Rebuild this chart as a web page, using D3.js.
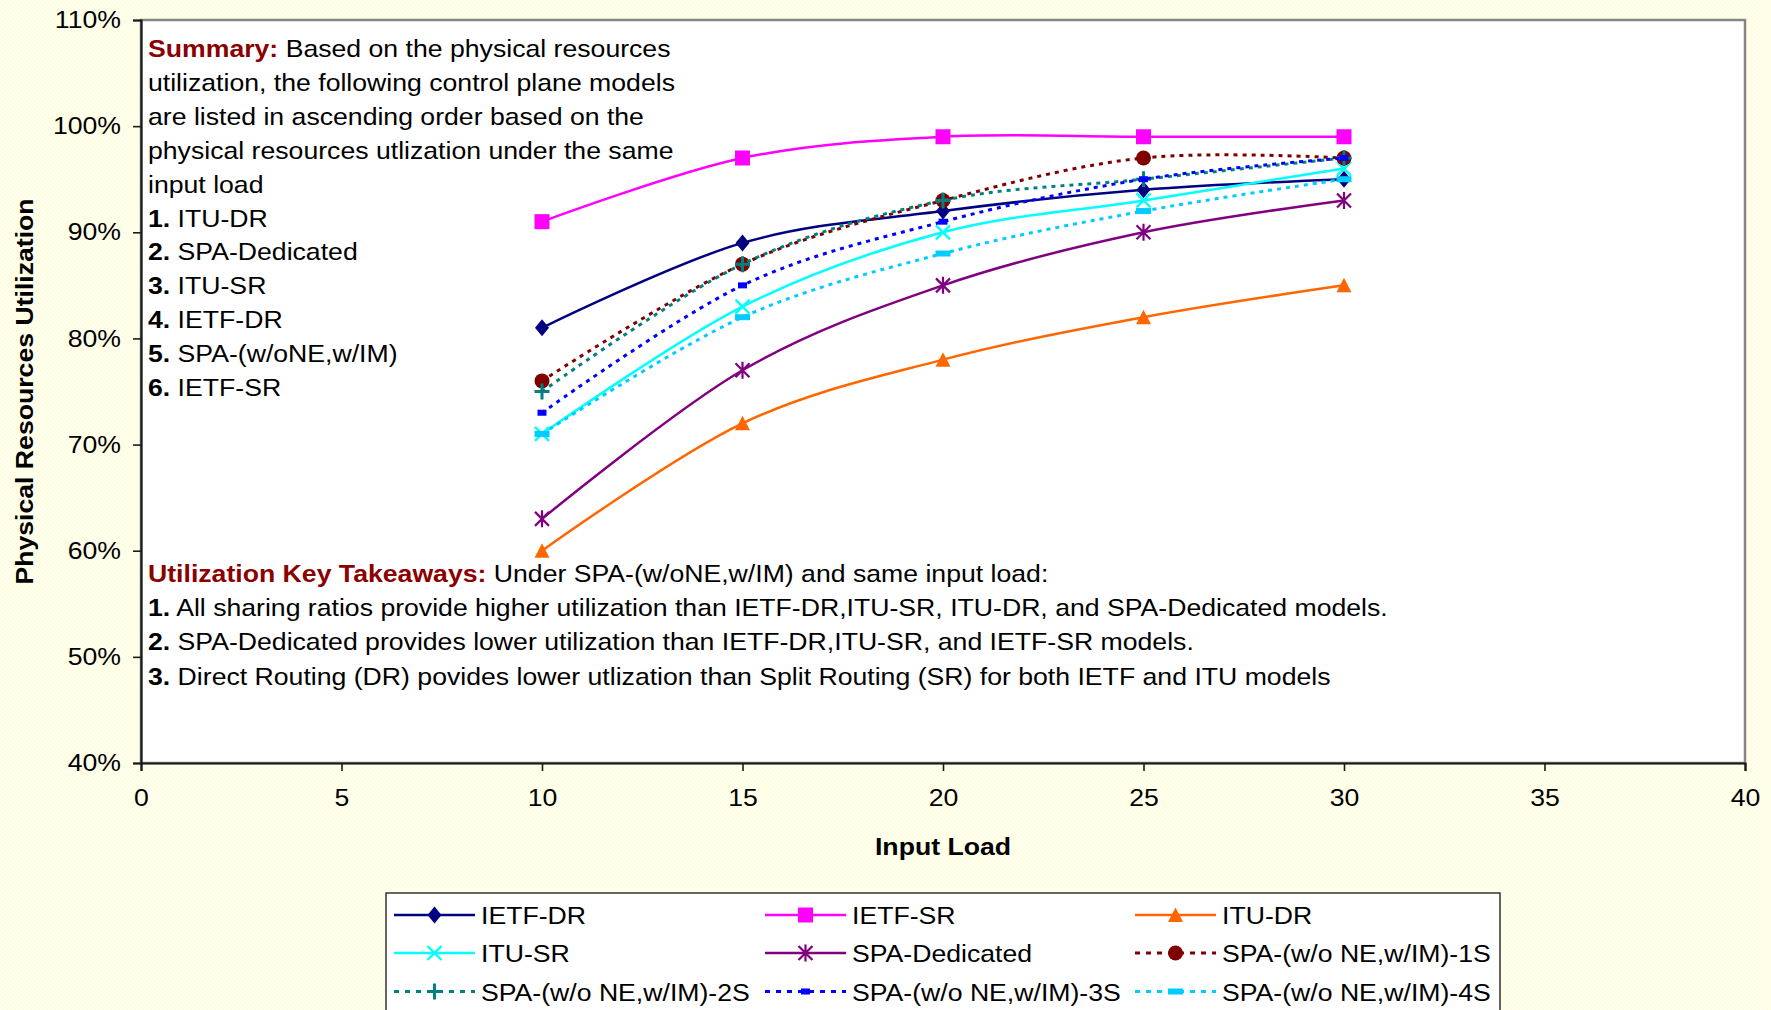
<!DOCTYPE html>
<html>
<head>
<meta charset="utf-8">
<script src="https://cdn.jsdelivr.net/npm/d3@7"></script>
<style>
  html, body { margin: 0; padding: 0; background: #ffffe4; }
  svg { display: block; }
</style>
</head>
<body>
<svg id="chart" width="1771" height="1010"></svg>
<script>
// ---- data ----
const inputLoad = [10, 15, 20, 25, 30];

const ietfDR       = [81, 89, 92, 94, 95];
const ietfSR       = [91, 97, 99, 99, 99];
const ituDR        = [60, 72, 78, 82, 85];
const ituSR        = [71, 83, 90, 93, 96];
const spaDedicated = [63, 77, 85, 90, 93];
const spa1S        = [76, 87, 93, 97, 97];
const spa2S        = [75, 87, 93, 95, 97];
const spa3S        = [73, 85, 91, 95, 97];
const spa4S        = [71, 82, 88, 92, 95];

const seriesNames = ["IETF-DR", "IETF-SR", "ITU-DR", "ITU-SR", "SPA-Dedicated",
  "SPA-(w/o NE,w/IM)-1S", "SPA-(w/o NE,w/IM)-2S", "SPA-(w/o NE,w/IM)-3S", "SPA-(w/o NE,w/IM)-4S"];
const seriesValues = [ietfDR, ietfSR, ituDR, ituSR, spaDedicated, spa1S, spa2S, spa3S, spa4S];
const seriesColors = ["#000080", "#ff00ff", "#ff6600", "#00ffff", "#800080",
  "#800000", "#008080", "#0000ff", "#00ccff"];
const seriesMarkers = ["diamond", "square", "triangle", "cross", "star",
  "circle", "plus", "shortbar", "longbar"];
const seriesDotted = [false, false, false, false, false, true, true, true, true];

const xTicks = [0, 5, 10, 15, 20, 25, 30, 35, 40];
const yTicks = [40, 50, 60, 70, 80, 90, 100, 110];

const xTitle = "Input Load";
const yTitle = "Physical Resources Utilization";

const summaryHead = "Summary:";
const summaryBody = [
  " Based on the physical resources",
  "utilization, the following control plane models",
  "are listed in ascending order based on the",
  "physical resources utlization under the same",
  "input load"
];
const ranking = ["ITU-DR", "SPA-Dedicated", "ITU-SR", "IETF-DR", "SPA-(w/oNE,w/IM)", "IETF-SR"];

const takeawayHead = "Utilization Key Takeaways:";
const takeawayIntro = " Under SPA-(w/oNE,w/IM) and same input load:";
const takeaways = [
  "All sharing ratios provide higher utilization than IETF-DR,ITU-SR, ITU-DR, and SPA-Dedicated models.",
  "SPA-Dedicated provides lower utilization than IETF-DR,ITU-SR, and IETF-SR models.",
  "Direct Routing (DR) povides lower utlization than Split Routing (SR) for both IETF and ITU models"
];

// ---- layout ----
const W = 1771, H = 1010;
const plot = { left: 141, right: 1745, top: 20, bottom: 763 };
const FONT = "'Liberation Sans', Arial, sans-serif";
const SX = 1.11;   // text is drawn slightly wide
const FS = 24;

const svg = d3.select("#chart");

// textured pale-yellow page background
const defs = svg.append("defs");
const pat = defs.append("pattern").attr("id", "bgtex")
  .attr("width", 4).attr("height", 4).attr("patternUnits", "userSpaceOnUse");
pat.append("rect").attr("width", 4).attr("height", 4).attr("fill", "#ffffe0");
pat.append("rect").attr("width", 2).attr("height", 2).attr("fill", "#fffff2");
pat.append("rect").attr("x", 2).attr("y", 2).attr("width", 2).attr("height", 2).attr("fill", "#fffff2");
svg.append("rect").attr("width", W).attr("height", H).attr("fill", "url(#bgtex)");

const x = d3.scaleLinear().domain([0, 40]).range([plot.left, plot.right]);
const y = d3.scaleLinear().domain([40, 110]).range([plot.bottom, plot.top]);

// plot area
svg.append("rect")
  .attr("x", plot.left).attr("y", plot.top)
  .attr("width", plot.right - plot.left).attr("height", plot.bottom - plot.top)
  .attr("fill", "#ffffff").attr("stroke", "#868686").attr("stroke-width", 2.5);

// place a text element with horizontal stretch
function putText(parent, px, py, anchor) {
  return parent.append("text")
    .attr("transform", `translate(${px},${py}) scale(${SX},1)`)
    .attr("text-anchor", anchor || "start")
    .attr("font-family", FONT)
    .attr("font-size", FS)
    .attr("fill", "#000");
}

// axes
const yAxis = svg.append("g")
  .attr("transform", `translate(${plot.left},0)`)
  .call(d3.axisLeft(y).tickValues(yTicks).tickFormat(d => d + "%").tickSizeOuter(0).tickSize(8).tickPadding(12));
const xAxis = svg.append("g")
  .attr("transform", `translate(0,${plot.bottom})`)
  .call(d3.axisBottom(x).tickValues(xTicks).tickSizeOuter(0).tickSize(8).tickPadding(18));

[yAxis, xAxis].forEach(ax => {
  ax.select(".domain").attr("stroke", "#1a1a1a").attr("stroke-width", 2.2);
  ax.selectAll(".tick line").attr("stroke", "#1a1a1a").attr("stroke-width", 1.6);
  ax.selectAll(".tick text")
    .attr("font-family", FONT).attr("font-size", FS).attr("fill", "#000");
});
yAxis.selectAll(".tick text").each(function () {
  const t = d3.select(this);
  const tx = +t.attr("x");
  t.attr("x", null).attr("transform", `translate(${tx},0) scale(${SX},1)`);
});
xAxis.selectAll(".tick text").attr("transform", `scale(${SX},1)`);

// axis titles
putText(svg, (plot.left + plot.right) / 2 + 0, 855, "middle")
  .attr("font-weight", "bold").attr("font-size", 24).text(xTitle);
svg.append("text")
  .attr("transform", `translate(33,${(plot.top + plot.bottom) / 2}) rotate(-90) scale(${SX},1)`)
  .attr("text-anchor", "middle")
  .attr("font-family", FONT).attr("font-size", 24).attr("font-weight", "bold")
  .text(yTitle);

// summary block
const textX = 148;
const lineGap = 33.9;
let ty = 57;
{
  const t = putText(svg, textX, ty);
  t.append("tspan").attr("font-weight", "bold").attr("fill", "#8b0000").text(summaryHead);
  t.append("tspan").text(summaryBody[0]);
}
summaryBody.slice(1).forEach((s, i) => {
  putText(svg, textX, ty + lineGap * (i + 1)).text(s);
});
ranking.forEach((s, i) => {
  const t = putText(svg, textX, ty + lineGap * (summaryBody.length + i));
  t.append("tspan").attr("font-weight", "bold").text((i + 1) + ".");
  t.append("tspan").text(" " + s);
});

// takeaways block
const tky = 582;
const tkGap = 34.2;
{
  const t = putText(svg, textX, tky);
  t.append("tspan").attr("font-weight", "bold").attr("fill", "#8b0000").text(takeawayHead);
  t.append("tspan").text(takeawayIntro);
}
takeaways.forEach((s, i) => {
  const t = putText(svg, textX, tky + tkGap * (i + 1));
  t.append("tspan").attr("font-weight", "bold").text((i + 1) + ".");
  t.append("tspan").text(" " + s);
});

// marker shapes
function drawMarker(g, type, color) {
  switch (type) {
    case "diamond":
      g.append("path").attr("d", "M0,-8.5L7,0L0,8.5L-7,0Z").attr("fill", color); break;
    case "square":
      g.append("rect").attr("x", -7.5).attr("y", -7.5).attr("width", 15).attr("height", 15).attr("fill", color); break;
    case "triangle":
      g.append("path").attr("d", "M0,-7.5L7.5,7L-7.5,7Z").attr("fill", color); break;
    case "cross":
      g.append("path").attr("d", "M-7,-7L7,7M-7,7L7,-7").attr("stroke", color).attr("stroke-width", 2.4).attr("fill", "none"); break;
    case "star":
      g.append("path").attr("d", "M-7,-7L7,7M-7,7L7,-7M0,-8.5L0,8.5").attr("stroke", color).attr("stroke-width", 2.2).attr("fill", "none"); break;
    case "circle":
      g.append("circle").attr("r", 7.5).attr("fill", color); break;
    case "plus":
      g.append("path").attr("d", "M-7.5,0L7.5,0M0,-8L0,8").attr("stroke", color).attr("stroke-width", 3).attr("fill", "none"); break;
    case "shortbar":
      g.append("rect").attr("x", -4.5).attr("y", -3).attr("width", 9).attr("height", 6).attr("fill", color); break;
    case "longbar":
      g.append("rect").attr("x", -7.5).attr("y", -3).attr("width", 15).attr("height", 6).attr("fill", color); break;
  }
}

// series lines (smoothed) and markers
const line = d3.line()
  .x(d => x(d[0])).y(d => y(d[1]))
  .curve(d3.curveCardinal.tension(0));

const seriesLayer = svg.append("g");
seriesNames.forEach((name, i) => {
  const pts = inputLoad.map((v, j) => [v, seriesValues[i][j]]);
  const g = seriesLayer.append("g");
  g.append("path")
    .attr("d", line(pts))
    .attr("fill", "none")
    .attr("stroke", seriesColors[i])
    .attr("stroke-width", seriesDotted[i] ? 3 : 2.5)
    .attr("stroke-dasharray", seriesDotted[i] ? "4,5" : null);
  pts.forEach(p => {
    drawMarker(g.append("g").attr("transform", `translate(${x(p[0])},${y(p[1])})`),
      seriesMarkers[i], seriesColors[i]);
  });
});

// legend
const legend = svg.append("g");
legend.append("rect")
  .attr("x", 386).attr("y", 893).attr("width", 1114).attr("height", 140)
  .attr("fill", "#ffffff").attr("stroke", "#333333").attr("stroke-width", 1.5);
const legCols = [394, 765, 1135];
const legRows = [915, 953, 991.5];
seriesNames.forEach((name, i) => {
  const cx = legCols[i % 3], cy = legRows[Math.floor(i / 3)];
  const g = legend.append("g");
  g.append("line")
    .attr("x1", cx).attr("x2", cx + 81).attr("y1", cy).attr("y2", cy)
    .attr("stroke", seriesColors[i])
    .attr("stroke-width", seriesDotted[i] ? 3 : 2.5)
    .attr("stroke-dasharray", seriesDotted[i] ? "5,6" : null);
  drawMarker(g.append("g").attr("transform", `translate(${cx + 40.5},${cy})`), seriesMarkers[i], seriesColors[i]);
  putText(g, cx + 87, cy + 9).text(name);
});
</script>
</body>
</html>
